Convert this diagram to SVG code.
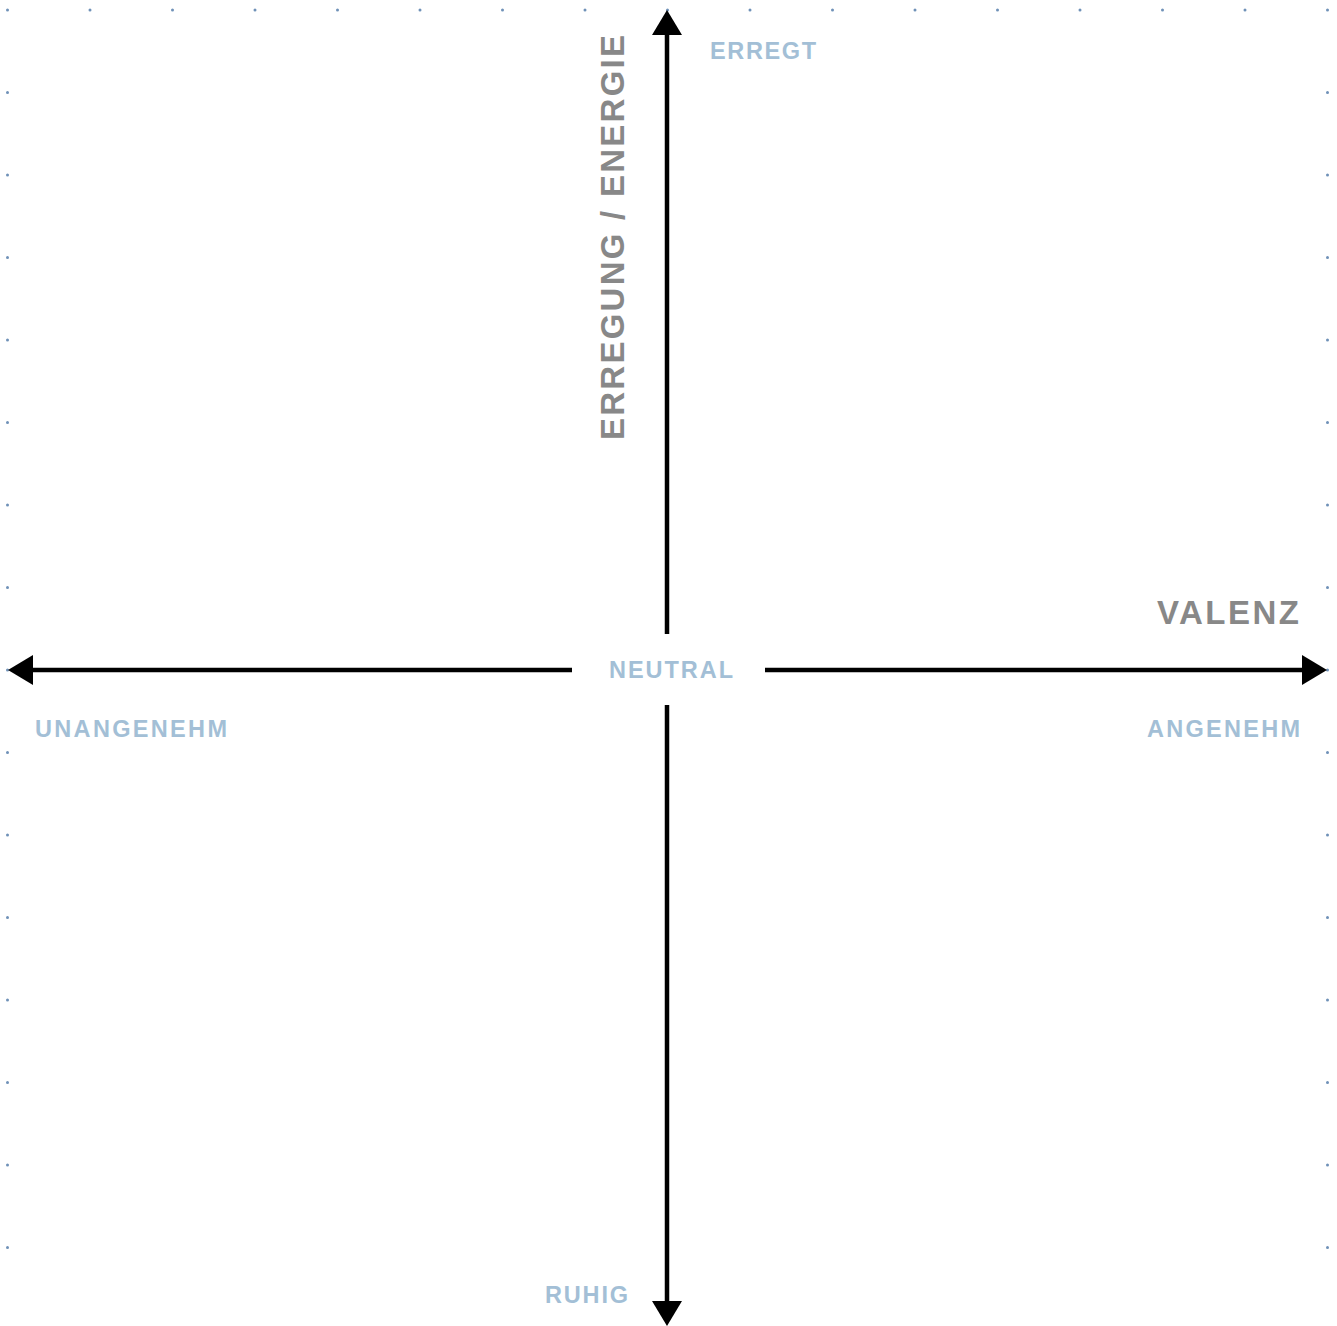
<svg xmlns="http://www.w3.org/2000/svg" width="1337" height="1326" viewBox="0 0 1337 1326">
<style>
.dot{fill:#6f91b8}
.ax{stroke:#000;stroke-width:4.5;fill:none}
.ah{fill:#000}
.lbl{font-family:"Liberation Sans",Arial,sans-serif;font-weight:bold;font-size:23.5px;fill:#a3bfd6}
.ttl{font-family:"Liberation Sans",Arial,sans-serif;font-weight:bold;font-size:33px;fill:#888888}
</style>
<rect width="1337" height="1326" fill="#ffffff"/>
<g id="grid-dots">
<circle class="dot" cx="7.5" cy="10" r="1.5"/><circle class="dot" cx="90" cy="10" r="1.5"/><circle class="dot" cx="172.5" cy="10" r="1.5"/><circle class="dot" cx="255" cy="10" r="1.5"/><circle class="dot" cx="337.5" cy="10" r="1.5"/><circle class="dot" cx="420" cy="10" r="1.5"/><circle class="dot" cx="502.5" cy="10" r="1.5"/><circle class="dot" cx="585" cy="10" r="1.5"/><circle class="dot" cx="667.5" cy="10" r="1.5"/><circle class="dot" cx="750" cy="10" r="1.5"/><circle class="dot" cx="832.5" cy="10" r="1.5"/><circle class="dot" cx="915" cy="10" r="1.5"/><circle class="dot" cx="997.5" cy="10" r="1.5"/><circle class="dot" cx="1080" cy="10" r="1.5"/><circle class="dot" cx="1162.5" cy="10" r="1.5"/><circle class="dot" cx="1245" cy="10" r="1.5"/><circle class="dot" cx="1327.5" cy="10" r="1.5"/>
<circle class="dot" cx="7.5" cy="92.5" r="1.5"/><circle class="dot" cx="7.5" cy="175" r="1.5"/><circle class="dot" cx="7.5" cy="257.5" r="1.5"/><circle class="dot" cx="7.5" cy="340" r="1.5"/><circle class="dot" cx="7.5" cy="422.5" r="1.5"/><circle class="dot" cx="7.5" cy="505" r="1.5"/><circle class="dot" cx="7.5" cy="587.5" r="1.5"/><circle class="dot" cx="7.5" cy="670" r="1.5"/><circle class="dot" cx="7.5" cy="752.5" r="1.5"/><circle class="dot" cx="7.5" cy="835" r="1.5"/><circle class="dot" cx="7.5" cy="917.5" r="1.5"/><circle class="dot" cx="7.5" cy="1000" r="1.5"/><circle class="dot" cx="7.5" cy="1082.5" r="1.5"/><circle class="dot" cx="7.5" cy="1165" r="1.5"/><circle class="dot" cx="7.5" cy="1247.5" r="1.5"/>
<circle class="dot" cx="1327.5" cy="92.5" r="1.5"/><circle class="dot" cx="1327.5" cy="175" r="1.5"/><circle class="dot" cx="1327.5" cy="257.5" r="1.5"/><circle class="dot" cx="1327.5" cy="340" r="1.5"/><circle class="dot" cx="1327.5" cy="422.5" r="1.5"/><circle class="dot" cx="1327.5" cy="505" r="1.5"/><circle class="dot" cx="1327.5" cy="587.5" r="1.5"/><circle class="dot" cx="1327.5" cy="670" r="1.5"/><circle class="dot" cx="1327.5" cy="752.5" r="1.5"/><circle class="dot" cx="1327.5" cy="835" r="1.5"/><circle class="dot" cx="1327.5" cy="917.5" r="1.5"/><circle class="dot" cx="1327.5" cy="1000" r="1.5"/><circle class="dot" cx="1327.5" cy="1082.5" r="1.5"/><circle class="dot" cx="1327.5" cy="1165" r="1.5"/><circle class="dot" cx="1327.5" cy="1247.5" r="1.5"/>
</g>
<g id="connectors">
<line class="ax" x1="667" y1="33" x2="667" y2="634"/>
<line class="ax" x1="667" y1="705" x2="667" y2="1303"/>
<line class="ax" x1="31" y1="670" x2="572" y2="670"/>
<line class="ax" x1="765" y1="670" x2="1304" y2="670"/>
<polygon class="ah" points="667,10 652,35 682,35"/>
<polygon class="ah" points="667,1326 652,1301 682,1301"/>
<polygon class="ah" points="8,670 33,655 33,685"/>
<polygon class="ah" points="1327,670 1302,655 1302,685"/>
</g>
<g id="axis-y-title">
<text class="ttl" transform="translate(624,440) rotate(-90)" x="0" y="0" textLength="405" lengthAdjust="spacing">ERREGUNG / ENERGIE</text>
</g>
<g id="axis-x-title">
<text class="ttl" x="1157" y="624" textLength="142" lengthAdjust="spacing">VALENZ</text>
</g>
<g id="label-erregt"><text class="lbl" x="710" y="58.5" textLength="106" lengthAdjust="spacing">ERREGT</text></g>
<g id="label-neutral"><text class="lbl" x="609" y="677.5" textLength="124" lengthAdjust="spacing">NEUTRAL</text></g>
<g id="label-unangenehm"><text class="lbl" x="35" y="737" textLength="192" lengthAdjust="spacing">UNANGENEHM</text></g>
<g id="label-angenehm"><text class="lbl" x="1147" y="737" textLength="153" lengthAdjust="spacing">ANGENEHM</text></g>
<g id="label-ruhig"><text class="lbl" x="545" y="1302.5" textLength="83" lengthAdjust="spacing">RUHIG</text></g>
</svg>
